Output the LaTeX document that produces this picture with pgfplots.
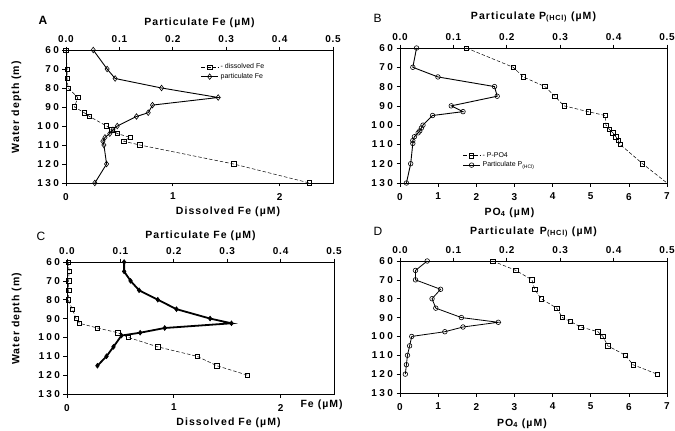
\documentclass[border=0pt]{standalone}
\usepackage{fontspec}
\setmainfont{Liberation Sans}
\usepackage{pgfplots}
\pgfplotsset{compat=1.18}

\pgfplotsset{
  panel/.style={
    scale only axis, width=267pt,
    ymin=60, ymax=130, y dir=reverse, clip=false,
    tick align=outside, major tick length=3.5pt,
    axis line style={line width=0.8pt},
    every tick/.style={black, line width=0.7pt},
    /pgf/number format/assume math mode=true,
    ticklabel style={font=\bfseries\fontsize{10}{10}\selectfont\addfontfeature{LetterSpace=8}},
    label style={font=\bfseries\fontsize{10.5}{12}\selectfont\addfontfeature{LetterSpace=10}},
  },
  bot/.style={panel, xtick pos=bottom, ytick pos=left, ytick={60,70,...,130},
    yticklabel style={font=\bfseries\fontsize{10}{10}\selectfont\addfontfeature{LetterSpace=25}},
    xticklabel style={yshift=-3pt},
    xtick={0,1,2,3,4,5,6,7}},
  top/.style={panel, axis x line*=top, axis y line=none, xmin=0, xmax=0.5,
    xtick={0,0.1,0.2,0.3,0.4,0.5},
    xticklabel style={/pgf/number format/.cd, fixed, fixed zerofill, precision=1},
    xlabel style={at={(axis description cs:0.5,1)}, anchor=base}},
  diss/.style={black, line width=0.5pt, dash pattern=on 3.5pt off 2pt,
    mark=square, mark size=2.2pt, mark options={solid, fill=white, line width=0.6pt}},
  pfe/.style={black, line width=0.9pt, mark=diamond, mark size=2.8pt,
    mark options={solid, fill=white, line width=0.6pt}},
  pp/.style={black, line width=0.9pt, mark=o, mark size=2.3pt,
    mark options={solid, fill=white, line width=0.6pt}},
  leg/.style={legend style={draw=none, fill=none, font=\fontsize{7}{8}\selectfont,
    row sep=-1pt, inner sep=1pt}, legend cell align=left},
}

\begin{document}
\begin{tikzpicture}
\path[use as bounding box] (0,0) rectangle (675pt,-431pt);

% ---------- A ----------
\begin{axis}[bot, at={(66pt,-50pt)}, anchor=north west, height=133pt,
  xmin=0, xmax=2.5,
  xlabel={Dissolved Fe (µM)},
  xlabel style={at={(axis description cs:0.607,0)}, anchor=base, yshift=-32pt},
  ylabel={Water depth (m)},
  ylabel style={at={(axis description cs:-0.176,0.57)}, anchor=base}]
\addplot[diss] coordinates {
  (0.00,60) (0.01,70) (0.01,75) (0.02,80) (0.11,85) (0.08,90) (0.17,93) (0.22,95)
  (0.38,100) (0.43,102) (0.48,104) (0.60,106) (0.54,108) (0.69,110) (1.57,120) (2.28,130)};
\end{axis}
\begin{axis}[top, at={(66pt,-50pt)}, anchor=north west, height=133pt,
  xlabel={Particulate Fe (µM)}, xlabel style={yshift=25pt},
  leg, legend style={at={(0.5,0.92)}, anchor=north west}]
\addlegendimage{diss}
\addlegendentry{- dissolved Fe}
\addplot[pfe] coordinates {
  (0.051,60) (0.077,70) (0.092,75) (0.179,80) (0.285,85) (0.162,89) (0.154,93) (0.132,95)
  (0.096,100) (0.088,102) (0.082,104) (0.073,106) (0.069,108) (0.071,110) (0.076,120) (0.054,130)};
\addlegendentry{particulate Fe}
\end{axis}
\node[font=\bfseries\fontsize{12}{12}\selectfont, anchor=base west] at (35pt,-24pt) {A};

% ---------- B ----------
\begin{axis}[bot, at={(400pt,-48pt)}, anchor=north west, height=135pt,
  xmin=0, xmax=7,
  xlabel={PO\textsubscript{4} (µM)},
  xlabel style={at={(axis description cs:0.41,0)}, anchor=base, yshift=-32pt}]
\addplot[diss, mark indices={1,...,15}] coordinates {
  (1.74,60) (2.97,70) (3.23,75) (3.80,80) (4.06,85) (4.30,90) (4.93,93) (5.38,95)
  (5.40,100) (5.48,102) (5.58,104) (5.66,106) (5.72,108) (5.77,110) (6.36,120) (7.0,130)};
\end{axis}
\begin{axis}[top, at={(400pt,-48pt)}, anchor=north west, height=135pt,
  xlabel={Particulate P\textsubscript{(HCl)} (µM)}, xlabel style={yshift=29pt},
  leg, legend style={at={(0.23,0.25)}, anchor=north west}]
\addlegendimage{diss}
\addlegendentry{- P-PO4}
\addplot[pp] coordinates {
  (0.031,60) (0.024,70) (0.071,75) (0.177,80) (0.182,85) (0.096,90) (0.118,93) (0.061,95)
  (0.043,100) (0.040,101.5) (0.037,103) (0.034,104) (0.027,106) (0.024,108) (0.024,109.5)
  (0.020,120) (0.012,130)};
\addlegendentry{Particulate P\textsubscript{(HCl)}}
\end{axis}
\node[font=\fontsize{12}{12}\selectfont, anchor=base west] at (370pt,-23pt) {B};

% ---------- C ----------
\begin{axis}[bot, at={(67pt,-262pt)}, anchor=north west, height=132pt,
  xmin=0, xmax=2.5,
  xlabel={Dissolved Fe (µM)},
  xlabel style={at={(axis description cs:0.605,0)}, anchor=base, yshift=-31pt},
  ylabel={Water depth (m)},
  ylabel style={at={(axis description cs:-0.178,0.57)}, anchor=base}]
\addplot[diss] coordinates {
  (0.01,60) (0.02,65) (0.016,70) (0.016,75) (0.01,80) (0.05,85) (0.085,90) (0.117,92.5)
  (0.285,95) (0.475,97.5) (0.575,100) (0.85,105) (1.218,110) (1.403,115) (1.69,120)};
\end{axis}
\begin{axis}[top, at={(67pt,-262pt)}, anchor=north west, height=132pt,
  xlabel={Particulate Fe (µM)}, xlabel style={yshift=24pt}]
\addplot[black, line width=1.8pt, mark=diamond*, mark size=2.4pt,
  mark options={solid, fill=black, line width=0.6pt}] coordinates {
  (0.107,60) (0.107,65) (0.119,70) (0.135,75) (0.17,80) (0.205,85) (0.268,90) (0.308,92.5)
  (0.183,95) (0.137,97.5) (0.102,99) (0.087,105) (0.074,110) (0.057,115)};
\end{axis}
\node[font=\fontsize{12}{12}\selectfont, anchor=base west] at (33pt,-240pt) {C};
\node[font=\bfseries\fontsize{10.5}{12}\selectfont\addfontfeature{LetterSpace=10}, anchor=base west] at (297pt,-407pt) {Fe (µM)};

% ---------- D ----------
\begin{axis}[bot, at={(400pt,-261pt)}, anchor=north west, height=132pt,
  xmin=0, xmax=7,
  xlabel={PO\textsubscript{4} (µM)},
  xlabel style={at={(axis description cs:0.457,0)}, anchor=base, yshift=-33pt}]
\addplot[diss] coordinates {
  (2.43,60) (3.04,65) (3.46,70) (3.53,75) (3.70,80) (4.11,85) (4.26,90) (4.46,92)
  (4.74,95) (5.19,97.5) (5.32,100) (5.45,105) (5.91,110) (6.11,115) (6.74,120)};
\end{axis}
\begin{axis}[top, at={(400pt,-261pt)}, anchor=north west, height=132pt,
  xlabel={Particulate \,P\textsubscript{(HCl)} (µM)}, xlabel style={yshift=27pt}]
\addplot[pp, line width=0.8pt] coordinates {
  (0.051,60) (0.029,65) (0.029,70) (0.076,75) (0.060,80) (0.067,85) (0.115,90) (0.184,92.5)
  (0.118,95) (0.084,97.5) (0.022,100) (0.018,105) (0.014,110) (0.012,115) (0.010,120)};
\end{axis}
\node[font=\fontsize{12}{12}\selectfont, anchor=base west] at (370pt,-235pt) {D};
\end{tikzpicture}
\end{document}
